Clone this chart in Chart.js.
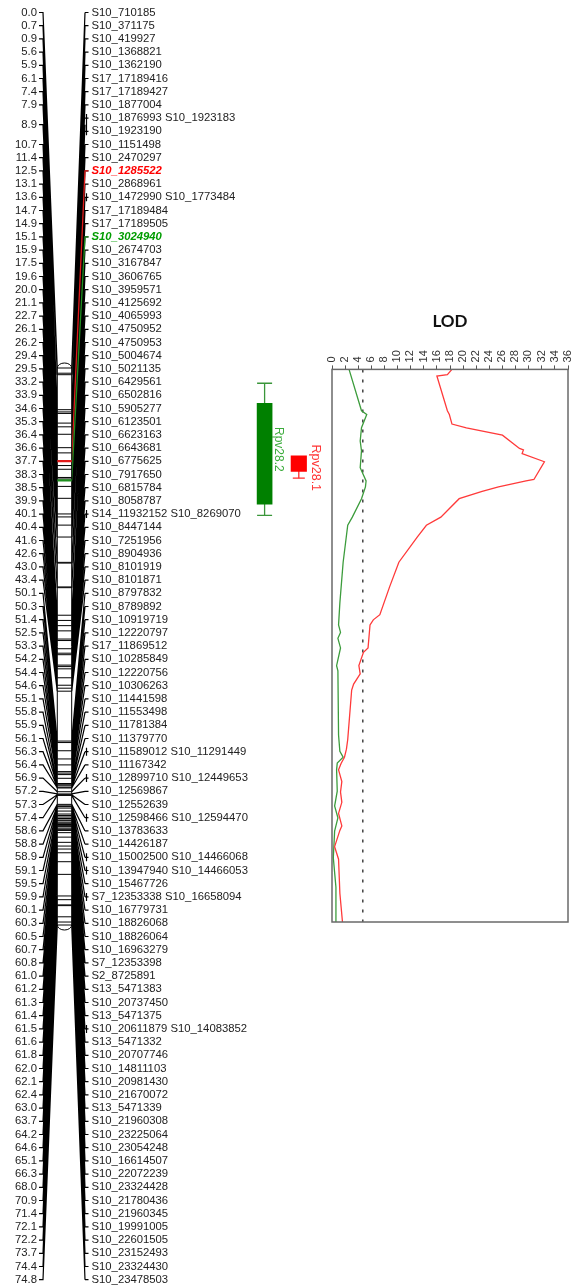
<!DOCTYPE html>
<html>
<head>
<meta charset="utf-8">
<title>Rpv28 linkage group and LOD profile</title>
<script src="https://cdn.jsdelivr.net/npm/chart.js@4.4.1/dist/chart.umd.min.js"></script>
<style>
  html, body { margin: 0; padding: 0; background: #ffffff; }
  #wrap { position: relative; width: 577px; height: 1287px; overflow: hidden; }
  #mapCanvas { position: absolute; left: 0; top: 0; }
  #lodCanvas { position: absolute; left: 300px; top: 290px; }
</style>
</head>
<body>
<div id="wrap">
  <canvas id="mapCanvas" width="577" height="1287"></canvas>
  <canvas id="lodCanvas" width="277" height="650"></canvas>
</div>
<script>
// ---- Linkage group: marker positions (cM) ----
const POSITIONS_CM = [
  0.0, 0.7, 0.9, 5.6, 5.9, 6.1, 7.4, 7.9, 8.9, 10.7,
  11.4, 12.5, 13.1, 13.6, 14.7, 14.9, 15.1, 15.9, 17.5, 19.6,
  20.0, 21.1, 22.7, 26.1, 26.2, 29.4, 29.5, 33.2, 33.9, 34.6,
  35.3, 36.4, 36.6, 37.7, 38.3, 38.5, 39.9, 40.1, 40.4, 41.6,
  42.6, 43.0, 43.4, 50.1, 50.3, 51.4, 52.5, 53.3, 54.2, 54.4,
  54.6, 55.1, 55.8, 55.9, 56.1, 56.3, 56.4, 56.9, 57.2, 57.3,
  57.4, 58.6, 58.8, 58.9, 59.1, 59.5, 59.9, 60.1, 60.3, 60.5,
  60.7, 60.8, 61.0, 61.2, 61.3, 61.4, 61.5, 61.6, 61.8, 62.0,
  62.1, 62.4, 63.0, 63.7, 64.2, 64.6, 65.1, 66.3, 68.0, 70.9,
  71.4, 72.1, 72.2, 73.7, 74.4, 74.8
];

// ---- Marker names at each position ----
const MARKER_NAMES = [
  ['S10_710185'], ['S10_371175'], ['S10_419927'], ['S10_1368821'], ['S10_1362190'],
  ['S17_17189416'], ['S17_17189427'], ['S10_1877004'],
  ['S10_1876993', 'S10_1923183', 'S10_1923190'],
  ['S10_1151498'], ['S10_2470297'], ['S10_1285522'], ['S10_2868961'],
  ['S10_1472990', 'S10_1773484'],
  ['S17_17189484'], ['S17_17189505'], ['S10_3024940'], ['S10_2674703'], ['S10_3167847'],
  ['S10_3606765'], ['S10_3959571'], ['S10_4125692'], ['S10_4065993'], ['S10_4750952'],
  ['S10_4750953'], ['S10_5004674'], ['S10_5021135'], ['S10_6429561'], ['S10_6502816'],
  ['S10_5905277'], ['S10_6123501'], ['S10_6623163'], ['S10_6643681'], ['S10_6775625'],
  ['S10_7917650'], ['S10_6815784'], ['S10_8058787'],
  ['S14_11932152', 'S10_8269070'],
  ['S10_8447144'], ['S10_7251956'], ['S10_8904936'], ['S10_8101919'], ['S10_8101871'],
  ['S10_8797832'], ['S10_8789892'], ['S10_10919719'], ['S10_12220797'], ['S17_11869512'],
  ['S10_10285849'], ['S10_12220756'], ['S10_10306263'], ['S10_11441598'], ['S10_11553498'],
  ['S10_11781384'], ['S10_11379770'],
  ['S10_11589012', 'S10_11291449'],
  ['S10_11167342'],
  ['S10_12899710', 'S10_12449653'],
  ['S10_12569867'], ['S10_12552639'],
  ['S10_12598466', 'S10_12594470'],
  ['S10_13783633'], ['S10_14426187'],
  ['S10_15002500', 'S10_14466068'],
  ['S10_13947940', 'S10_14466053'],
  ['S10_15467726'],
  ['S7_12353338', 'S10_16658094'],
  ['S10_16779731'], ['S10_18826068'], ['S10_18826064'], ['S10_16963279'], ['S7_12353398'],
  ['S2_8725891'], ['S13_5471383'], ['S10_20737450'], ['S13_5471375'],
  ['S10_20611879', 'S10_14083852'],
  ['S13_5471332'], ['S10_20707746'], ['S10_14811103'], ['S10_20981430'], ['S10_21670072'],
  ['S13_5471339'], ['S10_21960308'], ['S10_23225064'], ['S10_23054248'], ['S10_16614507'],
  ['S10_22072239'], ['S10_23324428'], ['S10_21780436'], ['S10_21960345'], ['S10_19991005'],
  ['S10_22601505'], ['S10_23152493'], ['S10_23324430'], ['S10_23478503']
];

// ---- QTL intervals (cM) ----
const QTL_NAMES = ['Rpv28.2', 'Rpv28.1'];
const QTL_BOX_CM = [[4.75, 18.3], [11.8, 13.9]];
const QTL_WHISKER_CM = [[2.05, 19.8], [12.0, 14.8]];
const QTL_PEAK_MARKERS = ['S10_3024940', 'S10_1285522'];

// ---- LOD profiles along the linkage group ----
const RPV281_CM  = [0.0, 0.7, 0.9, 5.6, 6.1, 7.4, 7.9, 8.9, 10.7, 10.9,
                    11.4, 12.5, 14.9, 15.1, 15.9, 16.5, 17.5, 20.0, 21.1, 22.7,
                    26.1, 29.4, 33.2, 33.9, 34.6, 37.7, 38.3, 40.1, 41.2, 42.6,
                    43.4, 50.1, 51.4, 52.5, 53.3, 54.2, 55.8, 57.2, 58.6, 60.1,
                    61.8, 62.4, 64.6, 66.3, 70.9, 74.8];
const RPV281_LOD = [18.3, 17.6, 16.0, 17.6, 17.9, 18.3, 20.5, 26.0, 28.6, 29.2,
                    29.0, 32.4, 30.8, 29.6, 25.4, 22.9, 19.4, 16.6, 14.4, 13.0,
                    10.2, 8.8, 7.3, 6.3, 5.8, 5.5, 4.8, 4.1, 4.3, 3.3,
                    3.0, 2.4, 2.2, 1.9, 1.4, 1.0, 1.5, 1.3, 1.5, 1.0,
                    1.5, 1.2, 0.4, 1.0, 1.2, 1.6];
const RPV282_CM  = [0.0, 5.6, 6.1, 7.9, 9.7, 11.0, 13.3, 15.1, 15.9, 17.5,
                    20.0, 21.1, 26.1, 31.6, 34.6, 35.6, 36.4, 37.7, 40.1, 40.8,
                    49.5, 51.7, 52.5, 53.3, 54.2, 57.1, 59.1, 60.7, 62.5, 66.1,
                    70.1, 74.8];
const RPV282_LOD = [2.6, 4.5, 5.3, 4.5, 4.3, 4.5, 4.3, 5.2, 5.1, 4.5,
                    3.1, 2.4, 1.7, 1.2, 1.0, 1.3, 0.9, 1.3, 0.7, 0.9,
                    1.0, 1.2, 1.7, 0.8, 0.7, 0.8, 0.4, 0.9, 0.4, 0.2,
                    0.6, 0.6];
const LOD_THRESHOLD = 4.7;
const LOD_TICK_VALUES = [0, 2, 4, 6, 8, 10, 12, 14, 16, 18, 20, 22, 24, 26, 28, 30, 32, 34, 36];

// ---- Styling and layout of the map canvas (x values are canvas pixels) ----
const FONT = "'Liberation Sans', Arial, sans-serif";
const L = {
  rowTop: 12.5, rowBottom: 1279.7,      // first and last label rows
  cmTop: 368, cmBottom: 925,            // extent of the chromosome bar
  cmText: 37, tickL: [39, 43],
  chrom: [57.3, 71.7],
  tickR: [85, 88.5], bracketX: 86.5, markerText: 91.5,
  qtlX: [264.6, 298.8], qtlLabelX: [274.5, 311.5],
  capH: 5
};
const QTL_STYLE = [
  { box: '#008000', whisker: '#3a963a', label: '#3dac3d', peak: '#009c00', link: '#1f8f1f', cap: 7.5, thick: 15, labelSize: 12 },
  { box: '#ff0000', whisker: '#ff2b2b', label: '#ff3535', peak: '#ff0000', link: '#e21b1b', cap: 6, thick: 15.5, labelSize: 12.5 }
];

// Rows of marker text: at most two names per row
const GROUPS = [];
let nextRow = 0;
MARKER_NAMES.forEach(names => {
  const lines = [];
  for (let i = 0; i < names.length; i += 2) lines.push(names.slice(i, i + 2).join(' '));
  GROUPS.push({ first: nextRow, lines });
  nextRow += lines.length;
});
const ROW_COUNT = nextRow;

const CM_FIRST = POSITIONS_CM[0];
const CM_LAST = POSITIONS_CM[POSITIONS_CM.length - 1];
const PX_PER_CM = (L.cmBottom - L.cmTop) / (CM_LAST - CM_FIRST);
const CM_AXIS_MIN = CM_FIRST - (L.cmTop - L.rowTop) / PX_PER_CM;
const CM_AXIS_MAX = CM_LAST + (L.rowBottom - L.cmBottom) / PX_PER_CM;

const peakIndex = name => QTL_PEAK_MARKERS.indexOf(name);

// Connector lines, chromosome bar and all map labels
const linkageMap = {
  id: 'linkageMap',
  beforeDatasetsDraw(chart) {
    const { ctx, scales: { x, rows, cm } } = chart;
    const X = v => x.getPixelForValue(v);
    const rowY = r => rows.getPixelForValue(r);
    const midY = g => rowY(g.first + (g.lines.length - 1) / 2);
    ctx.save();
    const connect = (i, g) => {
      const yr = midY(g), yc = cm.getPixelForValue(POSITIONS_CM[i]);
      ctx.moveTo(X(L.tickL[0]), yr); ctx.lineTo(X(L.tickL[1]), yr); ctx.lineTo(X(L.chrom[0]), yc);
      ctx.moveTo(X(L.chrom[1]), yc); ctx.lineTo(X(L.tickR[0]), yr);
    };
    ctx.lineWidth = 1.2;
    ctx.strokeStyle = '#000';
    ctx.beginPath();
    GROUPS.forEach((g, i) => {
      connect(i, g);
      g.lines.forEach((_, k) => {
        ctx.moveTo(X(L.tickR[0]), rowY(g.first + k));
        ctx.lineTo(X(L.tickR[1]), rowY(g.first + k));
      });
      if (MARKER_NAMES[i].length > 1) {
        ctx.moveTo(X(L.bracketX), rowY(g.first) - 4);
        ctx.lineTo(X(L.bracketX), rowY(g.first + g.lines.length - 1) + 4);
      }
    });
    ctx.stroke();
    // connectors of the QTL peak markers
    GROUPS.forEach((g, i) => {
      const q = peakIndex(MARKER_NAMES[i][0]);
      if (q < 0) return;
      const yr = midY(g), yc = cm.getPixelForValue(POSITIONS_CM[i]);
      ctx.strokeStyle = QTL_STYLE[q].link;
      ctx.lineWidth = 1.3;
      ctx.beginPath();
      ctx.moveTo(X(L.tickR[1]), yr); ctx.lineTo(X(L.tickR[0]), yr); ctx.lineTo(X(L.chrom[1]), yc);
      ctx.stroke();
    });
    // chromosome bar
    const xl = X(L.chrom[0]), xr = X(L.chrom[1]);
    const xc = (xl + xr) / 2, rx = (xr - xl) / 2;
    const y0 = cm.getPixelForValue(CM_FIRST), y1 = cm.getPixelForValue(CM_LAST);
    ctx.beginPath();
    ctx.moveTo(xl, y1);
    ctx.lineTo(xl, y0);
    ctx.ellipse(xc, y0, rx, L.capH, 0, Math.PI, 2 * Math.PI);
    ctx.lineTo(xr, y1);
    ctx.ellipse(xc, y1, rx, L.capH, 0, 0, Math.PI);
    ctx.closePath();
    ctx.fillStyle = '#ffffff';
    ctx.fill();
    ctx.strokeStyle = '#000';
    ctx.lineWidth = 1;
    ctx.stroke();
    ctx.restore();
  },
  afterDatasetsDraw(chart) {
    const { ctx, scales: { x, rows, cm } } = chart;
    const X = v => x.getPixelForValue(v);
    const rowY = r => rows.getPixelForValue(r);
    ctx.save();
    ctx.textBaseline = 'middle';
    GROUPS.forEach((g, i) => {
      ctx.font = `11.3px ${FONT}`;
      ctx.fillStyle = '#222';
      ctx.textAlign = 'right';
      ctx.fillText(POSITIONS_CM[i].toFixed(1), X(L.cmText), rowY(g.first + (g.lines.length - 1) / 2));
      ctx.textAlign = 'left';
      g.lines.forEach((text, k) => {
        const q = peakIndex(text);
        ctx.font = q >= 0 ? `italic bold 11.3px ${FONT}` : `11.3px ${FONT}`;
        ctx.fillStyle = q >= 0 ? QTL_STYLE[q].peak : '#222';
        ctx.fillText(text, X(L.markerText), rowY(g.first + k));
      });
    });
    QTL_NAMES.forEach((name, q) => {
      const [a, b] = QTL_WHISKER_CM[q];
      ctx.save();
      ctx.translate(X(L.qtlLabelX[q]), cm.getPixelForValue((a + b) / 2));
      ctx.rotate(Math.PI / 2);
      ctx.textAlign = 'center';
      ctx.textBaseline = 'alphabetic';
      ctx.font = `${QTL_STYLE[q].labelSize}px ${FONT}`;
      ctx.fillStyle = QTL_STYLE[q].label;
      ctx.fillText(name, 0, 0);
      ctx.restore();
    });
    ctx.restore();
  }
};

const mapDatasets = [];
QTL_NAMES.forEach((name, q) => {
  mapDatasets.push({
    type: 'bar', label: name, xAxisID: 'x', yAxisID: 'cm',
    data: [{ x: L.qtlX[q], y: QTL_BOX_CM[q] }],
    backgroundColor: QTL_STYLE[q].box, borderWidth: 0,
    barThickness: QTL_STYLE[q].thick, grouped: false, order: 2
  });
  mapDatasets.push({
    type: 'line', label: name + ' interval', xAxisID: 'x', yAxisID: 'cm',
    data: QTL_WHISKER_CM[q].map(v => ({ x: L.qtlX[q], y: v })),
    borderColor: QTL_STYLE[q].whisker, borderWidth: 1.3, fill: false,
    pointStyle: 'line', pointRadius: QTL_STYLE[q].cap,
    pointBorderColor: QTL_STYLE[q].whisker, pointBorderWidth: 1.3, order: 3
  });
});
mapDatasets.push({
  type: 'scatter', label: 'markers', xAxisID: 'x', yAxisID: 'cm',
  data: POSITIONS_CM.map(c => ({ x: (L.chrom[0] + L.chrom[1]) / 2, y: c })),
  pointStyle: 'line',
  pointRadius: (L.chrom[1] - L.chrom[0]) / 2,
  pointBorderColor: MARKER_NAMES.map(n => { const q = peakIndex(n[0]); return q >= 0 ? QTL_STYLE[q].link : '#000'; }),
  pointBorderWidth: MARKER_NAMES.map(n => peakIndex(n[0]) >= 0 ? 2.2 : 1),
  order: 1
});

new Chart(document.getElementById('mapCanvas'), {
  type: 'scatter',
  data: { datasets: mapDatasets },
  options: {
    responsive: false, animation: false, events: [],
    layout: { autoPadding: false, padding: { top: L.rowTop, bottom: 1287 - L.rowBottom, left: 0, right: 0 } },
    plugins: { legend: { display: false }, tooltip: { enabled: false }, title: { display: false } },
    scales: {
      x: { type: 'linear', min: 0, max: 577, display: false, offset: false },
      rows: { type: 'linear', axis: 'y', min: 0, max: ROW_COUNT - 1, reverse: true, display: false },
      cm: { type: 'linear', axis: 'y', min: CM_AXIS_MIN, max: CM_AXIS_MAX, reverse: true, display: false }
    }
  },
  plugins: [linkageMap]
});

// ---- LOD profile chart ----
const plotFrame = {
  id: 'plotFrame',
  afterDatasetsDraw(chart) {
    const { ctx, chartArea: a } = chart;
    ctx.save();
    ctx.strokeStyle = '#6a6a6a';
    ctx.lineWidth = 1.5;
    ctx.strokeRect(a.left, a.top, a.right - a.left, a.bottom - a.top);
    ctx.restore();
  }
};

new Chart(document.getElementById('lodCanvas'), {
  type: 'scatter',
  data: {
    datasets: [
      {
        label: 'Rpv28.1', showLine: true, order: 0,
        data: RPV281_CM.map((c, i) => ({ x: RPV281_LOD[i], y: c })),
        borderColor: '#ff3a3a', borderWidth: 1.3, pointRadius: 0, tension: 0
      },
      {
        label: 'Rpv28.2', showLine: true, order: 1,
        data: RPV282_CM.map((c, i) => ({ x: RPV282_LOD[i], y: c })),
        borderColor: '#3c9c3c', borderWidth: 1.3, pointRadius: 0, tension: 0
      },
      {
        label: 'LOD threshold', showLine: true, order: 2,
        data: [{ x: LOD_THRESHOLD, y: CM_FIRST }, { x: LOD_THRESHOLD, y: CM_LAST }],
        borderColor: '#333', borderWidth: 1.4, borderDash: [3, 7], pointRadius: 0
      }
    ]
  },
  options: {
    responsive: false, animation: false, events: [],
    layout: { autoPadding: false, padding: { left: 32, right: 9, top: 0, bottom: 18 } },
    plugins: {
      legend: { display: false },
      tooltip: { enabled: false },
      title: {
        display: true, text: 'LOD', color: '#111',
        font: { family: "Lato, 'Liberation Sans', sans-serif", size: 17, weight: 'bold' },
        padding: { top: 21, bottom: 12 }
      }
    },
    scales: {
      x: {
        type: 'linear', position: 'top', min: 0, max: 36,
        afterBuildTicks: s => { s.ticks = LOD_TICK_VALUES.map(v => ({ value: v })); },
        afterFit: s => { s.height = 26; },
        ticks: { minRotation: 90, maxRotation: 90, autoSkip: false, padding: 3, labelOffset: 13, color: '#333',
                 font: { family: FONT, size: 11 } },
        grid: { drawOnChartArea: false, drawTicks: true, tickLength: 4, color: '#555' },
        border: { display: true, color: '#666' }
      },
      y: { type: 'linear', min: CM_FIRST, max: CM_LAST, reverse: true, display: false }
    }
  },
  plugins: [plotFrame]
});
</script>
</body>
</html>
